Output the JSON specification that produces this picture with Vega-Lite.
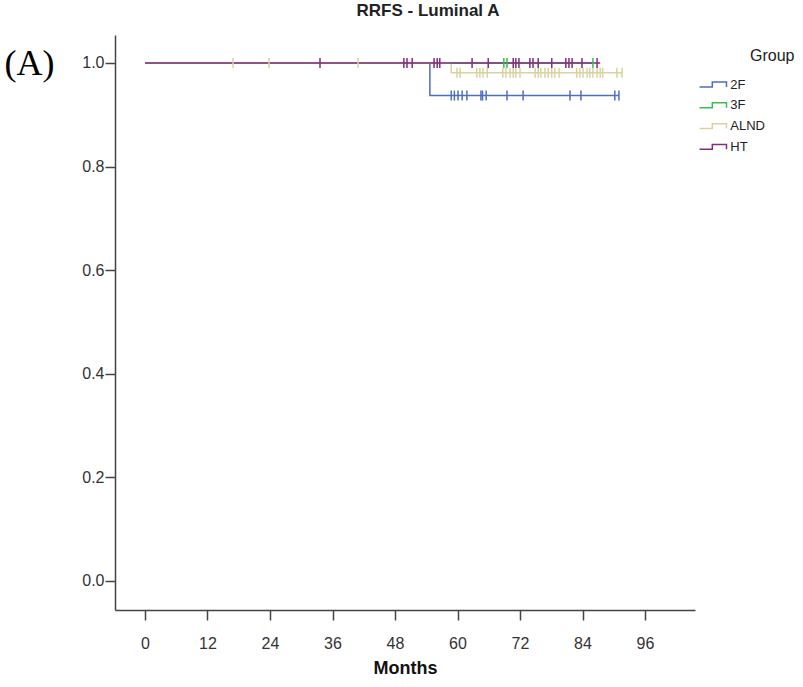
{
  "$schema": "https://vega.github.io/schema/vega-lite/v6.json",
  "width": 580,
  "height": 575,
  "autosize": "none",
  "padding": {"left": 115, "top": 35, "right": 108, "bottom": 77},
  "background": "white",
  "config": {"view": {"stroke": null}, "font": "Liberation Sans"},
  "title": {"text": "RRFS - Luminal A", "fontSize": 17, "font": "Liberation Sans", "fontWeight": "bold", "color": "#222222", "anchor": "middle", "dx": 23, "offset": 15},
  "datasets": {
    "curves": [
      {"group": "2F", "time": 0, "surv": 1},
      {"group": "2F", "time": 54.7, "surv": 0.937},
      {"group": "2F", "time": 91.0, "surv": 0.937},
      {"group": "3F", "time": 0, "surv": 1},
      {"group": "3F", "time": 86.0, "surv": 1},
      {"group": "ALND", "time": 0, "surv": 1},
      {"group": "ALND", "time": 58.8, "surv": 0.981},
      {"group": "ALND", "time": 91.6, "surv": 0.981},
      {"group": "HT", "time": 0, "surv": 1},
      {"group": "HT", "time": 87.4, "surv": 1}
    ],
    "censor": [
      {"group": "2F", "time": 58.8, "surv": 0.937},
      {"group": "2F", "time": 59.4, "surv": 0.937},
      {"group": "2F", "time": 60.1, "surv": 0.937},
      {"group": "2F", "time": 60.9, "surv": 0.937},
      {"group": "2F", "time": 61.8, "surv": 0.937},
      {"group": "2F", "time": 64.5, "surv": 0.937},
      {"group": "2F", "time": 64.8, "surv": 0.937},
      {"group": "2F", "time": 65.5, "surv": 0.937},
      {"group": "2F", "time": 69.5, "surv": 0.937},
      {"group": "2F", "time": 72.6, "surv": 0.937},
      {"group": "2F", "time": 81.6, "surv": 0.937},
      {"group": "2F", "time": 83.7, "surv": 0.937},
      {"group": "2F", "time": 90.2, "surv": 0.937},
      {"group": "2F", "time": 91.0, "surv": 0.937},
      {"group": "3F", "time": 68.9, "surv": 1},
      {"group": "3F", "time": 69.5, "surv": 1},
      {"group": "3F", "time": 86.0, "surv": 1},
      {"group": "ALND", "time": 16.9, "surv": 1},
      {"group": "ALND", "time": 23.8, "surv": 1},
      {"group": "ALND", "time": 40.9, "surv": 1},
      {"group": "ALND", "time": 59.9, "surv": 0.981},
      {"group": "ALND", "time": 60.5, "surv": 0.981},
      {"group": "ALND", "time": 63.7, "surv": 0.981},
      {"group": "ALND", "time": 64.3, "surv": 0.981},
      {"group": "ALND", "time": 64.9, "surv": 0.981},
      {"group": "ALND", "time": 65.7, "surv": 0.981},
      {"group": "ALND", "time": 68.7, "surv": 0.981},
      {"group": "ALND", "time": 69.3, "surv": 0.981},
      {"group": "ALND", "time": 70.1, "surv": 0.981},
      {"group": "ALND", "time": 70.7, "surv": 0.981},
      {"group": "ALND", "time": 71.2, "surv": 0.981},
      {"group": "ALND", "time": 72.0, "surv": 0.981},
      {"group": "ALND", "time": 74.9, "surv": 0.981},
      {"group": "ALND", "time": 75.5, "surv": 0.981},
      {"group": "ALND", "time": 76.0, "surv": 0.981},
      {"group": "ALND", "time": 76.8, "surv": 0.981},
      {"group": "ALND", "time": 77.4, "surv": 0.981},
      {"group": "ALND", "time": 78.1, "surv": 0.981},
      {"group": "ALND", "time": 78.7, "surv": 0.981},
      {"group": "ALND", "time": 79.5, "surv": 0.981},
      {"group": "ALND", "time": 82.9, "surv": 0.981},
      {"group": "ALND", "time": 83.5, "surv": 0.981},
      {"group": "ALND", "time": 84.1, "surv": 0.981},
      {"group": "ALND", "time": 84.9, "surv": 0.981},
      {"group": "ALND", "time": 85.4, "surv": 0.981},
      {"group": "ALND", "time": 86.0, "surv": 0.981},
      {"group": "ALND", "time": 86.8, "surv": 0.981},
      {"group": "ALND", "time": 87.4, "surv": 0.981},
      {"group": "ALND", "time": 87.9, "surv": 0.981},
      {"group": "ALND", "time": 90.6, "surv": 0.981},
      {"group": "ALND", "time": 91.6, "surv": 0.981},
      {"group": "HT", "time": 33.6, "surv": 1},
      {"group": "HT", "time": 49.7, "surv": 1},
      {"group": "HT", "time": 50.3, "surv": 1},
      {"group": "HT", "time": 51.3, "surv": 1},
      {"group": "HT", "time": 55.5, "surv": 1},
      {"group": "HT", "time": 56.1, "surv": 1},
      {"group": "HT", "time": 56.6, "surv": 1},
      {"group": "HT", "time": 62.8, "surv": 1},
      {"group": "HT", "time": 65.9, "surv": 1},
      {"group": "HT", "time": 70.7, "surv": 1},
      {"group": "HT", "time": 71.2, "surv": 1},
      {"group": "HT", "time": 71.8, "surv": 1},
      {"group": "HT", "time": 73.9, "surv": 1},
      {"group": "HT", "time": 74.5, "surv": 1},
      {"group": "HT", "time": 75.5, "surv": 1},
      {"group": "HT", "time": 78.1, "surv": 1},
      {"group": "HT", "time": 80.8, "surv": 1},
      {"group": "HT", "time": 81.4, "surv": 1},
      {"group": "HT", "time": 82.0, "surv": 1},
      {"group": "HT", "time": 83.9, "surv": 1},
      {"group": "HT", "time": 86.8, "surv": 1}
    ]
  },
  "encoding": {
    "x": {
      "field": "time", "type": "quantitative",
      "scale": {"domain": [-5.76, 105.6], "nice": false, "zero": false},
      "axis": {
        "values": [0, 12, 24, 36, 48, 60, 72, 84, 96], "format": "d",
        "title": "Months", "titleFontSize": 18, "titleFontWeight": "bold", "titleColor": "#111111",
        "titlePadding": 8, "labelFontSize": 16, "labelColor": "#333333", "labelPadding": 15,
        "tickSize": 10, "tickWidth": 1.5, "tickColor": "#444444", "domainColor": "#444444", "domainWidth": 1.5,
        "grid": false, "labelFlush": false
      }
    },
    "y": {
      "field": "surv", "type": "quantitative",
      "scale": {"domain": [-0.056, 1.054], "nice": false, "zero": false},
      "axis": {
        "values": [0, 0.2, 0.4, 0.6, 0.8, 1.0], "format": ".1f",
        "title": "(A)", "titleAngle": 0, "titleX": -86, "titleY": 28, "titleAlign": "center", "titleBaseline": "middle",
        "titleFont": "Liberation Serif", "titleFontSize": 36, "titleFontWeight": "normal", "titleColor": "#000000",
        "labelFontSize": 16, "labelColor": "#333333", "labelPadding": 1,
        "tickSize": 10, "tickWidth": 1.5, "tickColor": "#444444", "domainColor": "#444444", "domainWidth": 1.5,
        "grid": false, "labelFlush": false
      }
    }
  },
  "layer": [
    {
      "data": {"name": "curves"},
      "mark": {"type": "line", "interpolate": "step-after", "strokeWidth": 1.5},
      "encoding": {
        "color": {
          "field": "group", "type": "nominal",
          "scale": {"domain": ["2F", "3F", "ALND", "HT"], "range": ["#4d6fc0", "#3dbb4e", "#d8d3a0", "#832c80"]},
          "legend": {
            "orient": "none", "legendX": 590.5, "legendY": 13, "padding": 0,
            "title": "Group", "titleFontSize": 16, "titleFontWeight": "normal", "titleColor": "#222222", "titleAnchor": "end",
            "titlePadding": 13, "labelFontSize": 13, "labelColor": "#222222", "labelOffset": 9.75,
            "labelExpr": "datum.label + '\u2800\u2800\u2800'",
            "symbolType": "M-2,0.36H-0.1V-0.36H2V0.36", "symbolSize": 182, "symbolStrokeWidth": 1.5,
            "symbolFillColor": "transparent", "symbolOpacity": 1,
            "rowPadding": 5.8,
            "encode": {"symbols": {"update": {"fill": {"value": "transparent"}, "fillOpacity": {"value": 0}}}}
          }
        }
      }
    },
    {
      "data": {"name": "censor"},
      "mark": {"type": "point", "shape": "M0,-1V1", "filled": false, "size": 100, "strokeWidth": 1.5, "opacity": 1},
      "encoding": {
        "color": {"field": "group", "type": "nominal", "legend": null}
      }
    }
  ]
}
